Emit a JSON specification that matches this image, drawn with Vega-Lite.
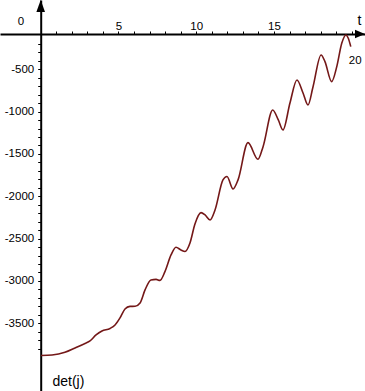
{
  "$schema": "https://vega.github.io/schema/vega-lite/v6.json",
  "width": 365,
  "height": 391,
  "autosize": {"type": "none"},
  "padding": 0,
  "background": "white",
  "config": {
    "view": {"stroke": null},
    "axis": {
      "labelFont": "Liberation Sans",
      "titleFont": "Liberation Sans",
      "labelColor": "#000",
      "titleColor": "#000",
      "labelFontSize": 11.5,
      "titleFontSize": 14,
      "titleFontWeight": "normal",
      "grid": false,
      "domainColor": "#000",
      "domainWidth": 2,
      "tickColor": "#000",
      "tickWidth": 1,
      "tickSize": 3,
      "labelFlush": false,
      "labelOverlap": false,
      "labelBound": false
    }
  },
  "datasets": {
    "curve": [
      {"t": 0.02, "v": -3880}, {"t": 0.73, "v": -3874}, {"t": 1.56, "v": -3842},
      {"t": 2.21, "v": -3791}, {"t": 2.85, "v": -3738}, {"t": 3.17, "v": -3709},
      {"t": 3.56, "v": -3638}, {"t": 3.94, "v": -3591}, {"t": 4.46, "v": -3561},
      {"t": 4.78, "v": -3520}, {"t": 5.10, "v": -3437}, {"t": 5.42, "v": -3331},
      {"t": 5.74, "v": -3301}, {"t": 6.07, "v": -3299}, {"t": 6.39, "v": -3260},
      {"t": 6.71, "v": -3106}, {"t": 7.09, "v": -2988}, {"t": 7.42, "v": -2982},
      {"t": 7.67, "v": -2994}, {"t": 7.99, "v": -2890}, {"t": 8.38, "v": -2693},
      {"t": 8.70, "v": -2602}, {"t": 9.02, "v": -2634}, {"t": 9.28, "v": -2652},
      {"t": 9.60, "v": -2551}, {"t": 9.92, "v": -2327}, {"t": 10.31, "v": -2193},
      {"t": 10.57, "v": -2221}, {"t": 10.89, "v": -2280}, {"t": 11.21, "v": -2162},
      {"t": 11.72, "v": -1807}, {"t": 11.98, "v": -1766}, {"t": 12.37, "v": -1914},
      {"t": 12.69, "v": -1807}, {"t": 13.33, "v": -1367}, {"t": 13.97, "v": -1563},
      {"t": 14.30, "v": -1414}, {"t": 14.92, "v": -981}, {"t": 15.28, "v": -1099},
      {"t": 15.58, "v": -1217}, {"t": 16.03, "v": -898}, {"t": 16.48, "v": -626},
      {"t": 16.87, "v": -780}, {"t": 17.19, "v": -922}, {"t": 17.51, "v": -709},
      {"t": 18.03, "v": -331}, {"t": 18.28, "v": -410}, {"t": 18.71, "v": -646},
      {"t": 19.04, "v": -469}, {"t": 19.36, "v": -193}, {"t": 19.63, "v": -95},
      {"t": 19.78, "v": -134}, {"t": 19.94, "v": -233}
    ],
    "yArrow": [{"t": 0, "v": 177}],
    "xArrow": [{"t": 20.21, "v": -83}]
  },
  "resolve": {"axis": {"x": "independent", "y": "independent"}},
  "layer": [
    {
      "data": {"name": "curve"},
      "mark": {"type": "line", "color": "#741818", "strokeWidth": 1.6, "interpolate": "monotone"},
      "encoding": {
        "x": {
          "field": "t",
          "type": "quantitative",
          "scale": {"domain": [-2.617, 20.855], "nice": false, "zero": false},
          "axis": {
            "orient": "top",
            "offset": -34,
            "values": [1,2,3,4,5,6,7,8,9,10,11,12,13,14,15,16,17,18,19,20],
            "labels": false,
            "title": "t",
            "titleX": 359,
            "titleY": -14,
            "titleAlign": "center",
            "titleBaseline": "middle",
            "titleAngle": 0
          }
        },
        "y": {
          "field": "v",
          "type": "quantitative",
          "scale": {"domain": [-4300, 318], "nice": false, "zero": false},
          "axis": {
            "orient": "left",
            "offset": -40.7,
            "values": [-200,-300,-400,-500,-600,-700,-800,-900,-1000,-1100,-1200,-1300,-1400,-1500,-1600,-1700,-1800,-1900,-2000,-2100,-2200,-2300,-2400,-2500,-2600,-2700,-2800,-2900,-3000,-3100,-3200,-3300,-3400,-3500,-3600,-3700,-3800],
            "labels": false,
            "title": "det(j)",
            "titleAngle": 0,
            "titleX": 11.3,
            "titleY": 381.7,
            "titleAlign": "left",
            "titleBaseline": "middle"
          }
        }
      }
    },
    {
      "data": {"name": "yArrow"},
      "mark": {"type": "point", "filled": true, "color": "#000", "opacity": 1, "size": 576, "shape": "M0,-1L0.36,0L-0.36,0Z"},
      "encoding": {
        "x": {
          "field": "t",
          "type": "quantitative",
          "axis": {
            "orient": "top",
            "offset": -34,
            "values": [5, 10, 15],
            "domain": false,
            "ticks": false,
            "tickSize": 0,
            "labelPadding": 3,
            "title": null
          }
        },
        "y": {
          "field": "v",
          "type": "quantitative",
          "axis": {
            "orient": "left",
            "offset": -40.7,
            "values": [-500, -1000, -1500, -2000, -2500, -3000, -3500],
            "labelExpr": "'' + datum.value",
            "domain": false,
            "ticks": false,
            "tickSize": 0,
            "labelPadding": 7,
            "title": null
          }
        }
      }
    },
    {
      "data": {"name": "xArrow"},
      "mark": {"type": "point", "filled": true, "color": "#000", "opacity": 1, "size": 400, "shape": "M1,0L0,-0.42L0,0.42Z"},
      "encoding": {
        "x": {
          "field": "t",
          "type": "quantitative",
          "axis": {
            "orient": "bottom",
            "offset": -337,
            "values": [20],
            "domain": false,
            "ticks": false,
            "tickSize": 0,
            "labelPadding": 0,
            "labelOffset": 3,
            "title": null
          }
        },
        "y": {
          "field": "v",
          "type": "quantitative",
          "axis": {
            "orient": "left",
            "offset": -40.7,
            "values": [0],
            "domain": false,
            "ticks": false,
            "tickSize": 0,
            "labelPadding": 17,
            "labelOffset": -5,
            "title": null
          }
        }
      }
    }
  ]
}
